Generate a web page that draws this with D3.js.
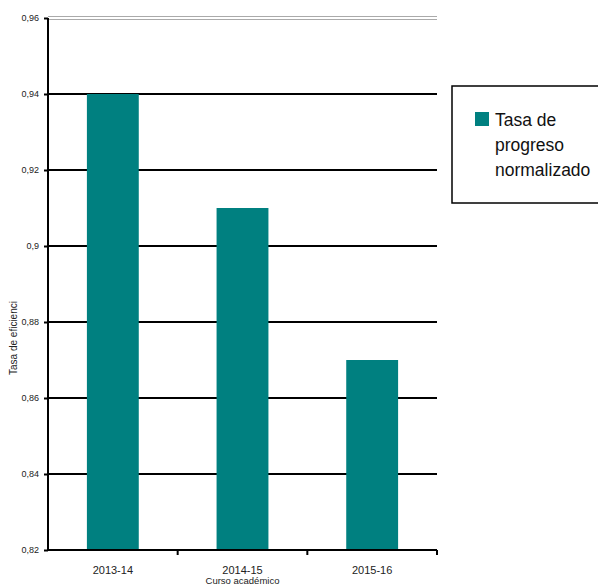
<!DOCTYPE html>
<html>
<head>
<meta charset="utf-8">
<script src="https://cdn.jsdelivr.net/npm/d3@7"></script>
<style>
  body { margin: 0; background: #fff; }
  svg { font-family: "Liberation Sans", Arial, sans-serif; }
</style>
</head>
<body>
<div id="chart"></div>
<script>
// data
var cursos = ["2013-14", "2014-15", "2015-16"]
var tasaProgreso = [0.94, 0.91, 0.87]
var yTicks = [0.82, 0.84, 0.86, 0.88, 0.9, 0.92, 0.94, 0.96]

var width = 598, height = 586
var margin = {top: 18, right: 161, bottom: 36, left: 48}

var svg = d3.select("#chart").append("svg")
    .attr("width", width)
    .attr("height", height)

var x = d3.scaleBand()
    .domain(cursos)
    .range([margin.left, width - margin.right])
    .paddingInner(0.6)
    .paddingOuter(0.3)

var y = d3.scaleLinear()
    .domain([0.82, 0.96])
    .range([height - margin.bottom, margin.top])

var fmt = d => String(+d.toFixed(2)).replace(".", ",")

// gridlines
svg.append("g")
  .selectAll("line")
  .data(yTicks.filter(d => d > 0.82 && d < 0.96))
  .join("line")
    .attr("x1", margin.left)
    .attr("x2", width - margin.right)
    .attr("y1", d => y(d))
    .attr("y2", d => y(d))
    .attr("stroke", "#000")
    .attr("stroke-width", 2)

// top line (double gray)
svg.append("line")
    .attr("x1", margin.left).attr("x2", width - margin.right)
    .attr("y1", y(0.96) - 1.5).attr("y2", y(0.96) - 1.5)
    .attr("stroke", "#aaa")
svg.append("line")
    .attr("x1", margin.left).attr("x2", width - margin.right)
    .attr("y1", y(0.96) + 1.5).attr("y2", y(0.96) + 1.5)
    .attr("stroke", "#aaa")

// bars
svg.append("g")
  .selectAll("rect")
  .data(tasaProgreso)
  .join("rect")
    .attr("x", (d, i) => x(cursos[i]))
    .attr("y", d => y(d))
    .attr("width", x.bandwidth())
    .attr("height", d => y(0.82) - y(d))
    .attr("fill", "#008080")

// y axis
var yAxis = svg.append("g")
    .attr("transform", "translate(" + margin.left + ",0)")
    .call(d3.axisLeft(y).tickValues(yTicks).tickFormat(fmt).tickSize(4).tickPadding(5))
yAxis.select(".domain").attr("stroke-width", 2).attr("d", "M0," + y(0.96) + "V" + y(0.82))
yAxis.selectAll(".tick line").attr("stroke-width", 2)
yAxis.selectAll("text").attr("font-size", 9).attr("fill", "#222").attr("font-family", "Liberation Sans, Arial, sans-serif")

// x axis
var xAxis = svg.append("g")
    .attr("transform", "translate(0," + y(0.82) + ")")
svg.append("line")
    .attr("x1", margin.left).attr("x2", width - margin.right)
    .attr("y1", y(0.82)).attr("y2", y(0.82))
    .attr("stroke", "#000").attr("stroke-width", 2)
var step = x.step()
xAxis.selectAll("line.sep")
  .data(cursos)
  .join("line")
    .attr("class", "sep")
    .attr("x1", (d, i) => margin.left + step * (i + 1))
    .attr("x2", (d, i) => margin.left + step * (i + 1))
    .attr("y1", 0).attr("y2", 5)
    .attr("stroke", "#000").attr("stroke-width", 2)
xAxis.selectAll("text")
  .data(cursos)
  .join("text")
    .attr("x", d => x(d) + x.bandwidth() / 2)
    .attr("y", 24)
    .attr("text-anchor", "middle")
    .attr("font-size", 11)
    .attr("fill", "#222")
    .text(d => d)

svg.append("text")
    .attr("x", (margin.left + width - margin.right) / 2)
    .attr("y", 584)
    .attr("text-anchor", "middle")
    .attr("font-size", 9.5)
    .attr("fill", "#222")
    .text("Curso académico")

svg.append("text")
    .attr("transform", "translate(17,338) rotate(-90)")
    .attr("text-anchor", "middle")
    .attr("font-size", 10)
    .attr("fill", "#222")
    .text("Tasa de eficienci")

// legend
var lg = svg.append("g")
lg.append("rect")
    .attr("x", 452).attr("y", 86)
    .attr("width", 160).attr("height", 117)
    .attr("fill", "#fff").attr("stroke", "#000").attr("stroke-width", 1.5)
lg.append("rect")
    .attr("x", 475).attr("y", 112)
    .attr("width", 14).attr("height", 14)
    .attr("fill", "#008080")
lg.append("text")
    .attr("x", 495).attr("y", 126)
    .attr("font-size", 17.5)
    .attr("fill", "#111")
  .selectAll("tspan")
  .data(["Tasa de", "progreso", "normalizado"])
  .join("tspan")
    .attr("x", 495)
    .attr("dy", (d, i) => i ? 25 : 0)
    .text(d => d)
</script>
</body>
</html>
